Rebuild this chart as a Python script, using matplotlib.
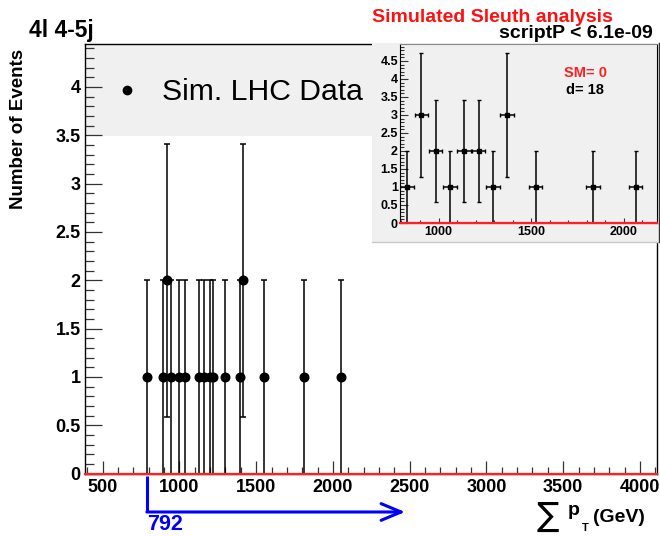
import numpy as np
import matplotlib
matplotlib.use("Agg")
import matplotlib.pyplot as plt
from matplotlib.patches import Rectangle
from matplotlib.ticker import MultipleLocator, FormatStrFormatter
from matplotlib.transforms import blended_transform_factory

plt.rcParams['font.family'] = ['Liberation Sans', 'DejaVu Sans']

# events in the main plot: sum pT (GeV) and number of events at that value
event_pt = [792, 894, 916, 948, 995, 1039, 1130, 1162, 1201, 1219,
            1294, 1392, 1414, 1552, 1812, 2050]
event_n = [1, 1, 2, 1, 1, 1, 1, 1, 1, 1, 1, 1, 2, 1, 1, 1]

# inset histogram (Sleuth region), 18 bins from 792 to 2180 GeV
inset_lo, inset_hi = 792, 2180
inset_counts = [1, 3, 2, 1, 2, 2, 1, 3, 0, 1, 0, 0, 0, 1, 0, 0, 1, 0]

main_xticks = [500, 1000, 1500, 2000, 2500, 3000, 3500, 4000]
inset_xticks = [1000, 1500, 2000]
region_start = 792
arrow_end = 2470

W, H = 660, 536
fig = plt.figure(figsize=(W / 100, H / 100), dpi=100)


def fx(x):
    return x / W


def fy(y):
    return 1 - y / H


# ---------------- main plot ----------------
ax = fig.add_axes([fx(85), fy(473.5), 572 / W, 430 / H])
ax.set_xlim(385, 4111)
ax.set_ylim(0, 4.45)

# legend box
ax.add_patch(Rectangle((0, (473.5 - 136) / 430), (400 - 85) / 572, 1,
                       transform=ax.transAxes, facecolor='#f0f0f0',
                       edgecolor='none', zorder=0.5))

yerr = np.sqrt(event_n)
ax.errorbar(event_pt, event_n, yerr=yerr, fmt='o', color='black', ms=6.2,
            elinewidth=1.1, capsize=2.2, capthick=1.1, zorder=3)
ax.plot([385, 4111], [0, 0], color='#ff2020', lw=1.6, zorder=4, clip_on=False)

ax.set_xticks(main_xticks)
ax.xaxis.set_minor_locator(MultipleLocator(100))
ax.yaxis.set_major_locator(MultipleLocator(0.5))
ax.yaxis.set_minor_locator(MultipleLocator(0.1))
ax.yaxis.set_major_formatter(FormatStrFormatter('%g'))
ax.tick_params(axis='both', which='both', direction='in', top=False, right=False,
               width=0.9, color='#333333')
ax.tick_params(axis='x', which='major', length=9.4, pad=4, labelsize=13)
ax.tick_params(axis='x', which='minor', length=4.7)
ax.tick_params(axis='y', which='major', length=12.4, pad=3, labelsize=13)
ax.tick_params(axis='y', which='minor', length=6.2)
for lab in ax.get_xticklabels() + ax.get_yticklabels():
    lab.set_fontweight('bold')
for s in ax.spines.values():
    s.set_linewidth(1.0)

# legend entry
fig.add_artist(plt.Line2D([fx(127)], [fy(90)], marker='o', ms=6, color='black',
                          transform=fig.transFigure))
fig.text(fx(162), fy(100.5), 'Sim. LHC Data', fontsize=21.7, va='baseline', ha='left')

# title and axis labels
fig.text(fx(29), fy(37), '4l 4-5j', fontsize=16.5, fontweight='bold', va='baseline')
fig.text(fx(19), fy(128.5), 'Number of Events', fontsize=13.5, fontweight='bold',
         rotation=90, ha='center', va='center')
fig.text(fx(537), fy(526), '\u2211', fontsize=24, va='baseline', ha='left',
         family=['DejaVu Sans'])
fig.text(fx(568), fy(515), 'p', fontsize=14, fontweight='bold', va='baseline')
fig.text(fx(582), fy(531), 'T', fontsize=8, fontweight='bold', va='baseline')
fig.text(fx(593), fy(522), '(GeV)', fontsize=14, fontweight='bold', va='baseline')

# blue arrow marking the region start
trans = blended_transform_factory(ax.transData, ax.transAxes)
ax.plot([region_start, region_start], [-0.006, -0.0895], color='blue', lw=2.2,
        transform=trans, clip_on=False, solid_capstyle='butt')
ax.annotate('', xy=(arrow_end, -0.0895), xytext=(region_start - 4, -0.0895),
            xycoords=trans, textcoords=trans,
            arrowprops=dict(arrowstyle='->,head_length=1.2,head_width=0.5',
                            color='blue', lw=2.2, mutation_scale=12,
                            shrinkA=0, shrinkB=0))
ax.text(region_start, -0.131, str(region_start), transform=trans, color='blue',
        fontsize=15.5, fontweight='bold', ha='left', va='baseline')

# ---------------- inset ----------------
fig.add_artist(Rectangle((fx(372), fy(242)), (W - 372) / W, (242 - 43) / H,
                         transform=fig.transFigure, facecolor='#f0f0f0',
                         edgecolor='none', zorder=1))
fig.add_artist(plt.Line2D([fx(372), fx(657)], [fy(241.5), fy(241.5)], color='#c8c8c8',
                          lw=1, transform=fig.transFigure, zorder=1.1))
fig.add_artist(plt.Line2D([fx(658.5), fx(658.5)], [fy(241.5), fy(43)], color='#333333',
                          lw=1, transform=fig.transFigure, zorder=1.1))

axi = fig.add_axes([fx(400), fy(223), 257 / W, 179 / H])
axi.set_zorder(2)
axi.set_facecolor('#f0f0f0')
edges = np.linspace(inset_lo, inset_hi, len(inset_counts) + 1)
centers = (edges[:-1] + edges[1:]) / 2
halfw = (edges[1] - edges[0]) / 2
cnt = np.array(inset_counts)
nz = cnt > 0
axi.errorbar(centers[nz], cnt[nz], yerr=np.sqrt(cnt[nz]), xerr=halfw * 0.95,
             fmt='s', color='black', ms=2.6, elinewidth=1.1, capsize=1.6,
             capthick=1.0, zorder=3)
axi.plot([inset_lo, inset_hi], [0, 0], color='#ff2020', lw=1.6, zorder=4,
         clip_on=False)
axi.set_xlim(inset_lo, inset_hi)
axi.set_ylim(0, 4.97)
axi.set_xticks(inset_xticks)
axi.xaxis.set_minor_locator(MultipleLocator(100))
axi.yaxis.set_major_locator(MultipleLocator(0.5))
axi.yaxis.set_minor_locator(MultipleLocator(0.1))
axi.yaxis.set_major_formatter(FormatStrFormatter('%g'))
axi.tick_params(axis='both', which='both', direction='in', top=False, right=False,
                width=0.8, labelsize=9, color='#333333')
axi.tick_params(axis='x', which='major', length=3.9, pad=2)
axi.tick_params(axis='x', which='minor', length=2)
axi.tick_params(axis='y', which='major', length=5.8, pad=1.5)
axi.tick_params(axis='y', which='minor', length=2.9)
for lab in axi.get_xticklabels() + axi.get_yticklabels():
    lab.set_fontweight('bold')
for s in axi.spines.values():
    s.set_linewidth(0.8)
axi.spines['top'].set_color('#888888')

axi.text(0.72, 0.816, 'SM= 0', transform=axi.transAxes, color='#ff2020',
         fontsize=10.5, fontweight='bold', ha='center', va='baseline')
axi.text(0.72, 0.72, 'd= %d' % sum(inset_counts), transform=axi.transAxes,
         color='black', fontsize=10.5, fontweight='bold', ha='center', va='baseline')

fig.text(fx(372), fy(22), 'Simulated Sleuth analysis', color='#ff1010', fontsize=14,
         fontweight='bold', va='baseline', ha='left')
fig.text(fx(653), fy(38), 'scriptP < 6.1e-09', color='black', fontsize=14,
         fontweight='bold', va='baseline', ha='right')

fig.savefig('out.png', dpi=100)
